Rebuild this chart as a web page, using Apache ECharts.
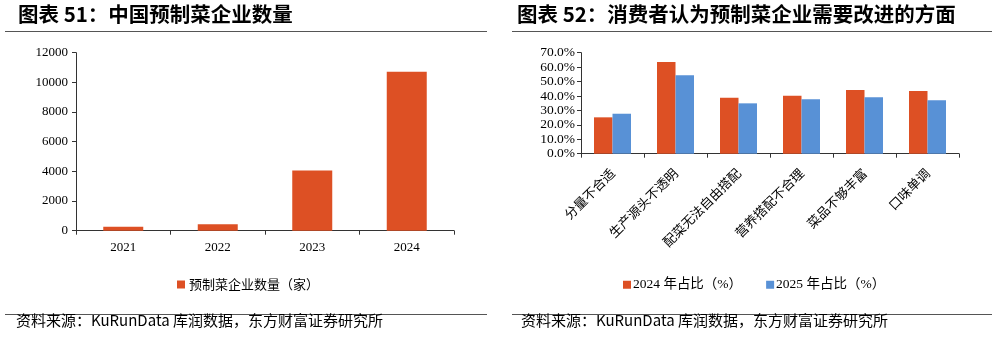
<!DOCTYPE html>
<html><head><meta charset="utf-8">
<script src="https://cdn.jsdelivr.net/npm/echarts@6/dist/echarts.min.js"></script>
<style>html,body{margin:0;padding:0;background:#fff}#c{width:997px;height:338px}</style>
</head><body><div id="c"></div>
<script>
const years = ['2021', '2022', '2023', '2024'];
const companyCount = [260, 440, 4060, 10720];
const aspects = ['分量不合适', '生产源头不透明', '配菜无法自由搭配', '营养搭配不合理', '菜品不够丰富', '口味单调'];
const share2024 = [25.2, 63.5, 38.8, 40.2, 44.1, 43.5];
const share2025 = [27.7, 54.3, 34.9, 37.7, 39.1, 37.0];

const RED = '#DD5024', BLUE = '#5891D6';
const serif = '"Liberation Serif", "Times New Roman", "Noto Sans CJK SC", serif';
const cjk = '"Noto Sans CJK SC", sans-serif';
const chart = echarts.init(document.getElementById('c'));
chart.setOption({
  animation: false,
  backgroundColor: '#fff',
  graphic: [
    {type: 'text', left: 18, top: 4, style: {text: '图表 51：中国预制菜企业数量', font: 'bold 20.5px "Noto Sans CJK SC"', fill: '#000'}},
    {type: 'text', left: 517, top: 4, style: {text: '图表 52：消费者认为预制菜企业需要改进的方面', font: 'bold 20.5px "Noto Sans CJK SC"', fill: '#000'}},
    {type: 'line', shape: {x1: 5, y1: 31.5, x2: 487, y2: 31.5}, style: {stroke: '#555', lineWidth: 1}},
    {type: 'line', shape: {x1: 512, y1: 31.5, x2: 992, y2: 31.5}, style: {stroke: '#555', lineWidth: 1}},
    {type: 'line', shape: {x1: 5, y1: 314.5, x2: 487, y2: 314.5}, style: {stroke: '#555', lineWidth: 1}},
    {type: 'line', shape: {x1: 512, y1: 314.5, x2: 992, y2: 314.5}, style: {stroke: '#555', lineWidth: 1}},
    {type: 'text', left: 16, top: 313, style: {text: '资料来源：KuRunData 库润数据，东方财富证券研究所', font: '15px "Noto Sans CJK SC"', fill: '#000'}},
    {type: 'text', left: 521, top: 313, style: {text: '资料来源：KuRunData 库润数据，东方财富证券研究所', font: '15px "Noto Sans CJK SC"', fill: '#000'}}
  ],
  legend: [
    {data: ['预制菜企业数量（家）'], left: 172, top: 273, itemWidth: 8, itemHeight: 8, icon: 'rect', itemGap: 4,
     textStyle: {fontFamily: cjk, fontSize: 13, color: '#000', padding: [0, 0, 0, -1]}},
    {data: ['2024 年占比（%）', '2025 年占比（%）'], left: 618, top: 273, itemWidth: 8, itemHeight: 8, icon: 'rect', itemGap: 24,
     textStyle: {fontFamily: serif, fontSize: 13.5, color: '#000', padding: [0, 0, 0, -3]}}
  ],
  grid: [
    {left: 76, right: 543, top: 52.7, bottom: 107.3},
    {left: 581, right: 38, top: 52.7, bottom: 184.3}
  ],
  xAxis: [
    {gridIndex: 0, type: 'category', data: years,
     axisLine: {lineStyle: {color: '#333'}}, axisTick: {show: true, length: 4, lineStyle: {color: '#333'}},
     axisLabel: {fontFamily: serif, fontSize: 13, color: '#000', margin: 10}},
    {gridIndex: 1, type: 'category', data: aspects,
     axisLine: {lineStyle: {color: '#333'}}, axisTick: {show: true, length: 4, lineStyle: {color: '#333'}},
     axisLabel: {fontFamily: cjk, fontSize: 13, color: '#000', rotate: 45, margin: 17, interval: 0}}
  ],
  yAxis: [
    {gridIndex: 0, type: 'value', min: 0, max: 12000, interval: 2000,
     axisLine: {show: true, lineStyle: {color: '#333'}}, axisTick: {show: true, length: 4, lineStyle: {color: '#333'}},
     splitLine: {show: false},
     axisLabel: {fontFamily: serif, fontSize: 13, color: '#000', margin: 8, formatter: v => String(v)}},
    {gridIndex: 1, type: 'value', min: 0, max: 70, interval: 10,
     axisLine: {show: true, lineStyle: {color: '#333'}}, axisTick: {show: true, length: 4, lineStyle: {color: '#333'}},
     splitLine: {show: false},
     axisLabel: {fontFamily: serif, fontSize: 13.5, color: '#000', margin: 6, formatter: v => v.toFixed(1) + '%'}}
  ],
  series: [
    {name: '预制菜企业数量（家）', type: 'bar', xAxisIndex: 0, yAxisIndex: 0, data: companyCount,
     barWidth: 40, itemStyle: {color: RED}},
    {name: '2024 年占比（%）', type: 'bar', xAxisIndex: 1, yAxisIndex: 1, data: share2024,
     barWidth: 18.5, barGap: '0%', itemStyle: {color: RED}},
    {name: '2025 年占比（%）', type: 'bar', xAxisIndex: 1, yAxisIndex: 1, data: share2025,
     barWidth: 18.5, barGap: '0%', itemStyle: {color: BLUE}}
  ]
});
</script></body></html>
